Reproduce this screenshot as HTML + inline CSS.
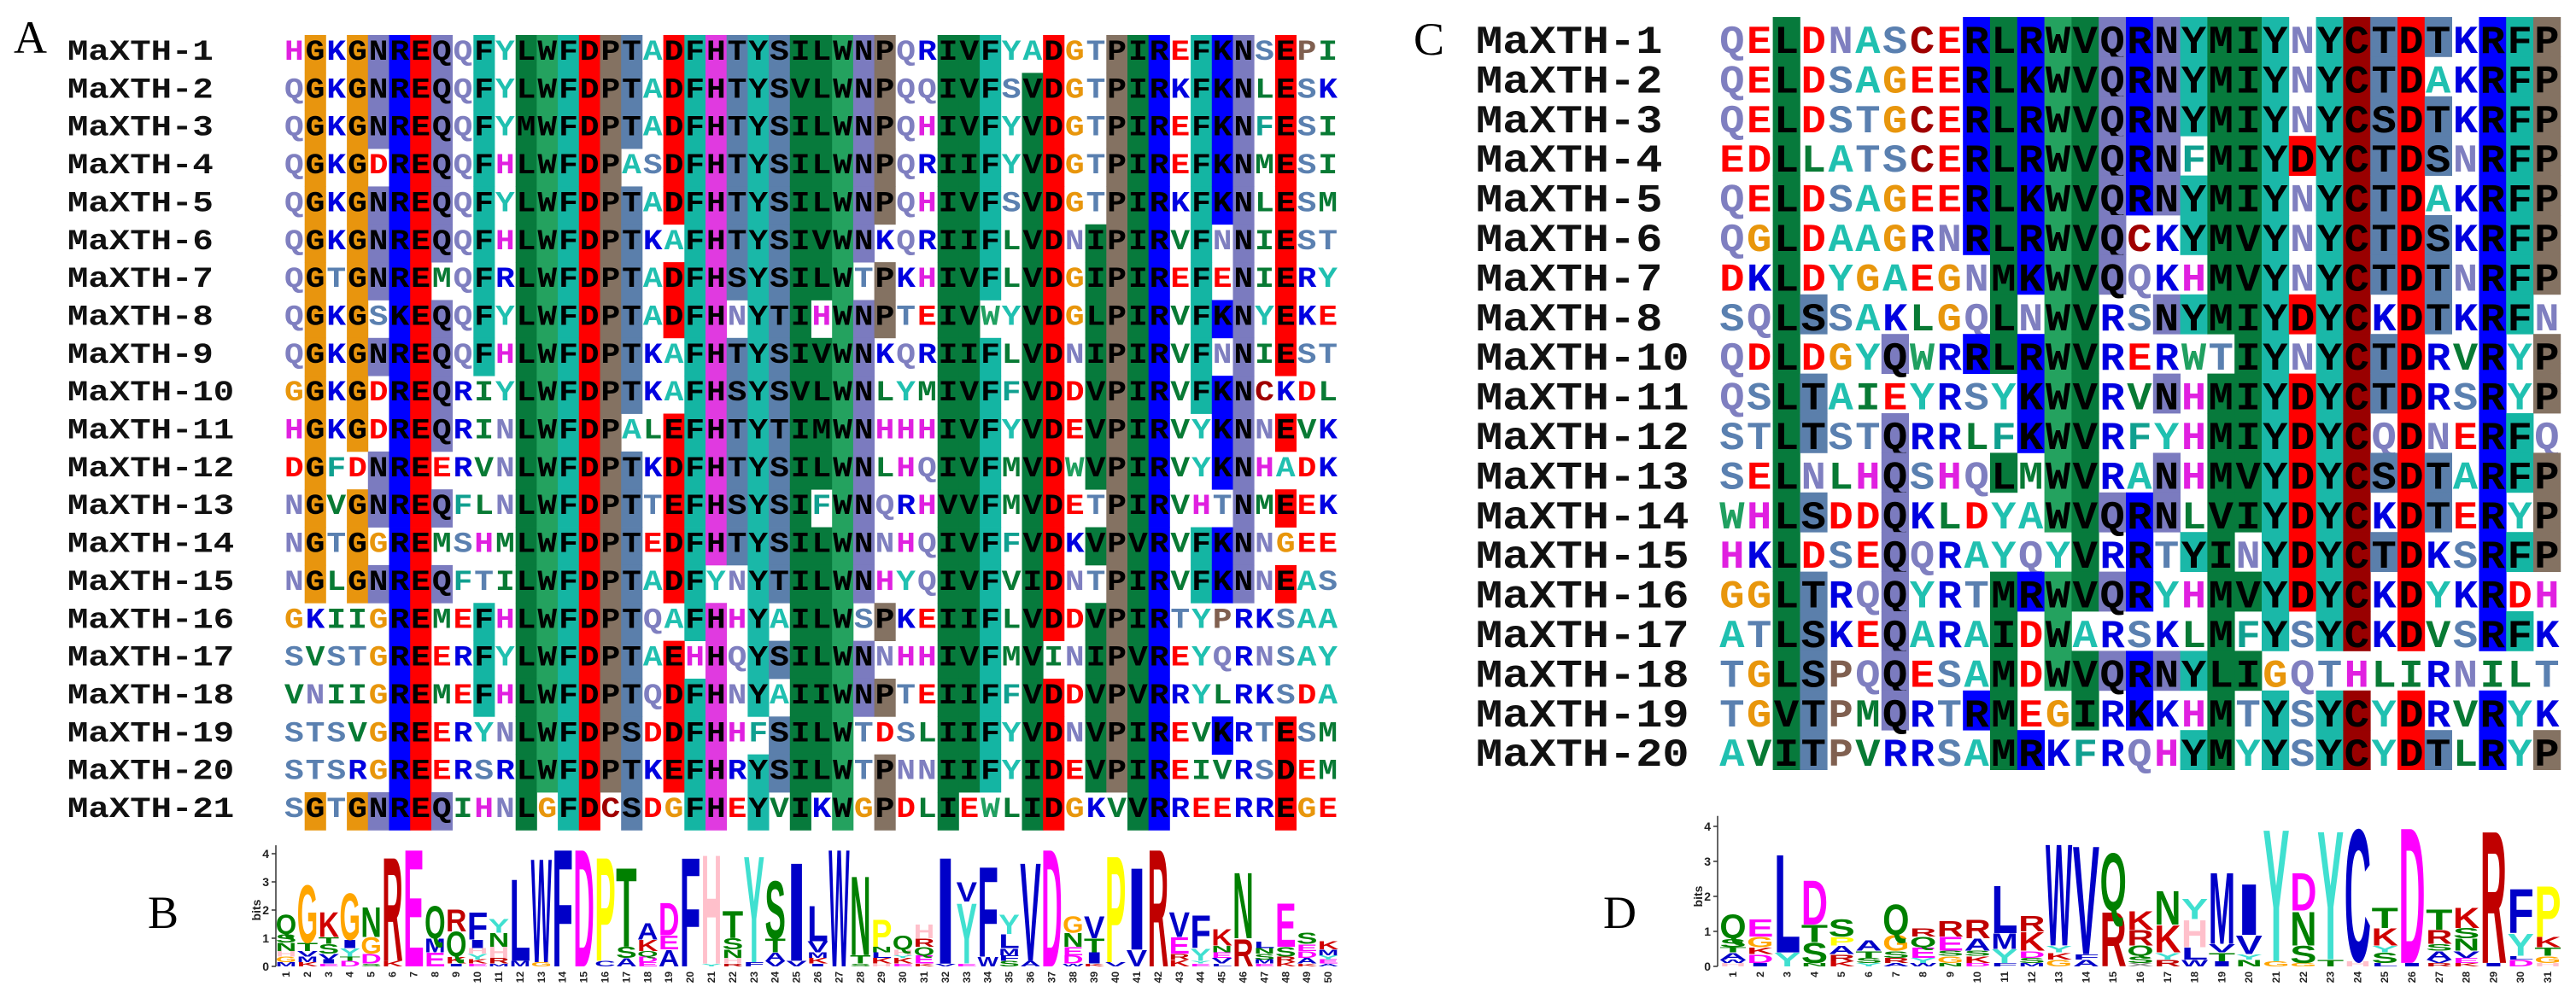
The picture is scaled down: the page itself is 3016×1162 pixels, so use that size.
<!DOCTYPE html>
<html><head><meta charset="utf-8"><style>
html,body{margin:0;padding:0;background:#fff;}
svg{display:block;}
.lab{font-family:"Liberation Mono",monospace;font-weight:bold;}
.pl{font-family:"Liberation Serif",serif;}
.lg{font-family:"Liberation Sans",sans-serif;font-weight:bold;}
</style></head><body>
<svg id="fig" xmlns="http://www.w3.org/2000/svg" width="3016" height="1162" viewBox="0 0 3016 1162">
<rect width="3016" height="1162" fill="#fff"/>
<text class="pl" x="16" y="62" font-size="54">A</text>
<text class="pl" x="173" y="1087" font-size="54">B</text>
<text class="pl" x="1655" y="64" font-size="54">C</text>
<text class="pl" x="1877" y="1087" font-size="54">D</text>
<g id="gA"></g>
<g id="gC"></g>
<g id="gB"></g>
<g id="gD"></g>
</svg>
<script>
const namesA = ["MaXTH-1","MaXTH-2","MaXTH-3","MaXTH-4","MaXTH-5","MaXTH-6","MaXTH-7","MaXTH-8","MaXTH-9","MaXTH-10","MaXTH-11","MaXTH-12","MaXTH-13","MaXTH-14","MaXTH-15","MaXTH-16","MaXTH-17","MaXTH-18","MaXTH-19","MaXTH-20","MaXTH-21"];
const seqsA = [
"HGKGNREQQFYLWFDPTADFHTYSILWNPQRIVFYADGTPIREFKNSEPI",
"QGKGNREQQFYLWFDPTADFHTYSVLWNPQQIVFSVDGTPIRKFKNLESK",
"QGKGNREQQFYMWFDPTADFHTYSILWNPQHIVFYVDGTPIREFKNFESI",
"QGKGDREQQFHLWFDPASDFHTYSILWNPQRIIFYVDGTPIREFKNMESI",
"QGKGNREQQFYLWFDPTADFHTYSILWNPQHIVFSVDGTPIRKFKNLESM",
"QGKGNREQQFHLWFDPTKAFHTYSIVWNKQRIIFLVDNIPIRVFNNIEST",
"QGTGNREMQFRLWFDPTADFHSYSILWTPKHIVFLVDGIPIREFENIERY",
"QGKGSKEQQFYLWFDPTADFHNYTIHWNPTEIVWYVDGLPIRVFKNYEKE",
"QGKGNREQQFHLWFDPTKAFHTYSIVWNKQRIIFLVDNIPIRVFNNIEST",
"GGKGDREQRIYLWFDPTKAFHSYSVLWNLYMIVFFVDDVPIRVFKNCKDL",
"HGKGDREQRINLWFDPALEFHTYTIMWNHHHIVFYVDEVPIRVYKNNEVK",
"DGFDNREERVNLWFDPTKDFHTYSILWNLHQIVFMVDWVPIRVYKNHADK",
"NGVGNREQFLNLWFDPTTEFHSYSIFWNQRHVVFMVDETPIRVHTNMEEK",
"NGTGGREMSHMLWFDPTEDFHTYSILWNNHQIVFFVDKVPVRVFKNNGEE",
"NGLGNREQFTILWFDPTADFYNYTILWNHYQIVFVIDNTPIRVFKNNEAS",
"GKIIGREMEFHLWFDPTQAFHHYAILWSPKEIIFLVDDVPIRTYPRKSAA",
"SVSTGREERFYLWFDPTAEHHQYSILWNNHHIVFMVINIPVREYQRNSAY",
"VNIIGREMEFHLWFDPTQDFHNYAIIWNPTEIIFFVDDVPVRRYLRKSDA",
"STSVGREERYNLWFDPSDDFHHFSILWTDSLIIFYVDNVPIREVKRTESM",
"STSRGREERSRLWFDPTKEFHRYSILWTPNNIIFYIDEVPIREIVRSDEM",
"SGTGNREQIHNLGFDCSDGFHEYVIKWGPDLIEWLIDGKVVRREERREGE"];
const namesC = ["MaXTH-1","MaXTH-2","MaXTH-3","MaXTH-4","MaXTH-5","MaXTH-6","MaXTH-7","MaXTH-8","MaXTH-10","MaXTH-11","MaXTH-12","MaXTH-13","MaXTH-14","MaXTH-15","MaXTH-16","MaXTH-17","MaXTH-18","MaXTH-19","MaXTH-20"];
const seqsC = [
"QELDNASCERLRWVQRNYMIYNYCTDTKRFP",
"QELDSAGEERLKWVQRNYMIYNYCTDAKRFP",
"QELDSTGCERLRWVQRNYMIYNYCSDTKRFP",
"EDLLATSCERLRWVQRNFMIYDYCTDSNRFP",
"QELDSAGEERLKWVQRNYMIYNYCTDAKRFP",
"QGLDAAGRNRLRWVQCKYMVYNYCTDSKRFP",
"DKLDYGAEGNMKWVQQKHMVYNYCTDTNRFP",
"SQLSSAKLGQLNWVRSNYMIYDYCKDTKRFN",
"QDLDGYQWRRLRWVRERWTIYNYCTDRVRYP",
"QSLTAIEYRSYKWVRVNHMIYDYCTDRSRYP",
"STLTSTQRRLFKWVRFYHMIYDYCQDNERFQ",
"SELNLHQSHQLMWVRANHMVYDYCSDTARFP",
"WHLSDDQKLDYAWVQRNLVIYDYCKDTERYP",
"HKLDSEQQRAYQYVRRTYINYDYCTDKSRFP",
"GGLTRQQYRTMRWVQRYHMVYDYCKDYKRDH",
"ATLSKEQARAIDWARSKLMFYSYCKDVSRFK",
"TGLSPQQESAMDWVQRNYLIGQTHLIRNILT",
"TGVTPMQRTRMEGIRKKHMTYSYCYDRVRYK",
"AVITPVRRSAMRKFRQHYMYYSYCYDTLRYP"];
// Logo B columns: stacks listed top to bottom, [letter, bits]
const logoB = [
[["Q",.7],["S",.3],["N",.3],["H",.2],["G",.2],["M",.15]],
[["G",2.1],["T",.3],["V",.2],["M",.2],["K",.15]],
[["K",.9],["T",.25],["S",.35],["V",.2],["I",.15],["E",.1]],
[["G",1.7],["I",.3],["Y",.3],["T",.15],["D",.2]],
[["N",1.1],["G",.6],["D",.35],["S",.1]],
[["R",3.8],["K",.2]],
[["E",4.3]],
[["Q",1.2],["M",.5],["E",.5]],
[["R",.8],["Q",.9],["K",.25],["I",.1]],
[["F",1.0],["I",.3],["H",.2],["Y",.2],["K",.15],["E",.1]],
[["Y",.5],["N",.5],["H",.4],["R",.2],["M",.1]],
[["L",3.0],["M",.2]],
[["W",3.8],["G",.15]],
[["F",4.3]],
[["D",4.3]],
[["P",3.8],["C",.2]],
[["T",2.9],["S",.4],["A",.3]],
[["A",.6],["K",.4],["Q",.2],["D",.2],["E",.15]],
[["D",1.2],["E",.5],["A",.6]],
[["F",4.0]],
[["H",4.0],["Y",.1]],
[["T",1.0],["S",.4],["N",.3],["H",.2],["R",.1]],
[["Y",3.9],["F",.15]],
[["S",2.1],["T",.5],["A",.3],["V",.2]],
[["I",3.6],["V",.2]],
[["L",1.3],["V",.4],["M",.2],["K",.2],["I",.1]],
[["W",4.3]],
[["N",2.9],["T",.3],["S",.1]],
[["P",1.0],["N",.2],["L",.2],["K",.2],["H",.1]],
[["Q",.5],["H",.2],["Y",.1],["K",.2],["E",.1]],
[["H",.5],["R",.3],["Q",.3],["E",.3],["K",.1]],
[["I",3.9],["V",.1]],
[["V",.7],["Y",2.2],["E",.1]],
[["F",3.3],["W",.35]],
[["Y",.7],["L",.5],["M",.25],["F",.2],["S",.2]],
[["V",3.6],["A",.2]],
[["D",4.3]],
[["G",.6],["N",.5],["E",.3],["D",.3],["W",.1]],
[["V",.8],["T",.5],["I",.4],["K",.1]],
[["P",3.9],["V",.15]],
[["I",3.0],["V",.6]],
[["R",4.3]],
[["V",.9],["E",.6],["R",.2],["K",.25]],
[["F",1.2],["Y",.45],["Y",.1],["E",.1]],
[["K",.6],["N",.25],["E",.2],["V",.2],["L",.1]],
[["N",2.4],["R",1.0]],
[["L",.25],["N",.2],["S",.2],["M",.15],["E",.1]],
[["E",1.6],["S",.35],["R",.2],["K",.15]],
[["S",.4],["E",.25],["D",.25],["A",.2],["K",.1]],
[["K",.3],["M",.2],["Y",.15],["E",.15],["A",.1]]];
const logoD = [
[["Q",.7],["S",.25],["T",.15],["A",.2],["W",.1],["H",.1]],
[["E",.5],["G",.3],["K",.2],["D",.25],["I",.1]],
[["L",2.9],["Y",.4]],
[["D",1.3],["T",.5],["S",.6],["N",.1]],
[["S",.5],["P",.25],["A",.25],["R",.2],["K",.15]],
[["A",.3],["T",.2],["S",.15],["Y",.1]],
[["Q",.9],["G",.45],["S",.2],["R",.15],["A",.1]],
[["R",.25],["Q",.3],["E",.3],["Y",.15],["W",.1]],
[["R",.45],["E",.4],["S",.15],["G",.2],["N",.1]],
[["R",.55],["A",.35],["S",.15],["K",.2],["D",.1]],
[["L",1.4],["M",.45],["Y",.4],["F",.1]],
[["R",.45],["K",.55],["D",.2],["S",.15],["M",.1]],
[["W",3.0],["Y",.2],["K",.2],["G",.2]],
[["V",3.2],["F",.15],["A",.2]],
[["Q",1.7],["R",1.6]],
[["K",.55],["R",.45],["Q",.3],["S",.2],["X",.1]],
[["N",1.0],["K",.8],["Y",.2],["R",.2]],
[["Y",.6],["H",.8],["L",.35],["W",.2]],
[["M",2.1],["V",.25],["T",.25],["I",.15]],
[["I",1.5],["V",.55],["Y",.15],["N",.2]],
[["Y",3.9],["G",.15]],
[["D",1.1],["N",1.0],["S",.5],["G",.1]],
[["Y",3.8],["T",.2]],
[["C",3.9],["H",.15]],
[["T",.6],["K",.5],["Y",.2],["S",.3],["L",.1]],
[["D",4.0],["I",.1]],
[["T",.6],["R",.4],["S",.2],["A",.25],["V",.1],["R",.1]],
[["K",.6],["S",.3],["N",.35],["V",.2],["E",.15],["K",.1]],
[["R",3.9],["I",.1]],
[["F",1.3],["Y",.65],["L",.1],["D",.2]],
[["P",1.5],["K",.3],["T",.25],["G",.2],["H",.1]]];
const bitTicks = [0,1,2,3,4];

const NS = "http://www.w3.org/2000/svg";
function mk(tag, attrs, parent){const e=document.createElementNS(NS,tag);for(const k in attrs)e.setAttribute(k,attrs[k]);parent.appendChild(e);return e;}

const BG = {G:"#e8950e",Q:"#7b7bbf",N:"#7b7bbf",R:"#0000ff",K:"#0000ff",D:"#ff0000",E:"#ff0000",S:"#5b7fab",T:"#5b7fab",A:"#1fb8a8",Y:"#1ab8a8",F:"#14b5a3",H:"#e03ae0",I:"#077a3c",L:"#077a3c",V:"#077a3c",M:"#077a3c",W:"#24a25f",P:"#847262",C:"#990000"};
const FG = {G:"#e8960c",Q:"#7f7fc0",N:"#7f7fc0",R:"#0000e0",K:"#0000e0",D:"#ff0000",E:"#ff0000",S:"#5a80b0",T:"#5a80b0",A:"#20c0b0",Y:"#20c0b0",F:"#10a090",H:"#e020e0",I:"#087a34",L:"#087a34",V:"#087a34",M:"#087a34",W:"#20a060",P:"#806050",C:"#a00000"};
function grp(c){if("ILVM".includes(c))return "h";if("RK".includes(c))return "+";if("DE".includes(c))return "-";if("ST".includes(c))return "s";return c;}

function drawAlign(g, names, seqs, cfg){
  const n = cfg.len;
  names.forEach((nm,r)=>{
    const y = cfg.top + r*cfg.rowH + cfg.base;
    const t = mk("text",{class:"lab",x:cfg.labelX,y:y,"font-size":cfg.fs,textLength:nm.length*cfg.labelCW,lengthAdjust:"spacingAndGlyphs",fill:"#111"},g);
    
    
    t.textContent = nm;
  });
  for(let c=0;c<n;c++){
    const counts={};
    seqs.forEach(s=>{const ch=s[c];if(ch&&ch!=" "){const k=grp(ch);counts[k]=(counts[k]||0)+1;}});
    let best=null,bc=0;for(const k in counts){if(counts[k]>bc){bc=counts[k];best=k;}}
    const shadeOK = bc/seqs.length >= cfg.thr;
    seqs.forEach((s,r)=>{
      const ch = s[c]; if(!ch||ch==" ")return;
      const x = cfg.seqX + c*cfg.cw, y0 = cfg.top + r*cfg.rowH;
      const shaded = shadeOK && grp(ch)===best;
      if(shaded){
        const rc = mk("rect",{x:x,y:y0,width:cfg.cw+0.4,height:cfg.rowH+0.4,fill:BG[ch]||"#888"},g);
        
        
      }
      const t = mk("text",{class:"lab",x:x+cfg.cw/2,y:y0+cfg.base,"text-anchor":"middle","font-size":cfg.fs,textLength:cfg.cw*0.92,lengthAdjust:"spacingAndGlyphs",fill:shaded?"#000":(FG[ch]||"#333")},g);
      
      
      t.textContent = ch;
    });
  }
}
drawAlign(document.getElementById("gA"), namesA, seqsA, {len:50,labelX:79,labelCW:24.4,seqX:332,cw:24.7,top:41,rowH:44.35,base:29,fs:34,thr:0.5});
drawAlign(document.getElementById("gC"), namesC, seqsC, {len:31,labelX:1728,labelCW:31.2,seqX:2012,cw:31.8,top:20,rowH:46.4,base:42,fs:46,thr:0.4});

const LC = {A:"#0000c8",C:"#0000c8",F:"#0000c8",I:"#0000c8",L:"#0000c8",M:"#0000c8",V:"#0000c8",W:"#0000c8",D:"#ff00ff",E:"#ff00ff",G:"#ffa500",H:"#ffc0cb",K:"#d00000",R:"#c00000",N:"#008000",Q:"#008000",S:"#008000",T:"#008000",P:"#ffff00",Y:"#40e0d0",X:"#888"};
function drawLogo(g, data, cfg){
  const yOf = b => cfg.y0 - b*cfg.ppb;
  const ax = mk("line",{x1:cfg.axisX,y1:yOf(4.3),x2:cfg.axisX,y2:cfg.y0,stroke:"#333","stroke-width":1.5},g);
  
  
  bitTicks.forEach(b=>{
    mk("line",{x1:cfg.axisX-5,y1:yOf(b),x2:cfg.axisX,y2:yOf(b),stroke:"#333","stroke-width":1.5},g);
    const t = mk("text",{class:"lg",x:cfg.axisX-8,y:yOf(b)+5,"text-anchor":"end","font-size":14,fill:"#222"},g);
    
    
    t.textContent = b;
  });
  const bl = mk("text",{class:"lg",x:0,y:0,"font-size":14,"text-anchor":"middle",fill:"#222",transform:`translate(${cfg.axisX-18},${yOf(2)}) rotate(-90)`},g);
  
  
  bl.textContent = "bits";
  data.forEach((stack,i)=>{
    const cx = cfg.col1 + i*cfg.sp;
    let yb = cfg.y0;
    for(let k=stack.length-1;k>=0;k--){
      const [L,b] = stack[k];
      const h = b*cfg.ppb; if(h<0.5){continue;}
      const w = cfg.sp*0.98;
      const t = mk("text",{class:"lg",x:0,y:0,"font-size":100,textLength:64,lengthAdjust:"spacingAndGlyphs",fill:LC[L]||"#888",transform:`translate(${cx-w/2},${yb}) scale(${w/64},${h/72})`},g);
      
      
      t.textContent = L;
      yb -= h;
    }
    const n = mk("text",{class:"lg",x:0,y:0,"font-size":12,"text-anchor":"end",fill:"#222",transform:`translate(${cx+4},${cfg.y0+6}) rotate(-90)`},g);
    
    
    n.textContent = i+1;
  });
}
drawLogo(document.getElementById("gB"), logoB, {axisX:323,col1:335,sp:24.9,y0:1132,ppb:33});
drawLogo(document.getElementById("gD"), logoD, {axisX:2011,col1:2029,sp:31.8,y0:1132,ppb:41});
</script>
</body></html>
